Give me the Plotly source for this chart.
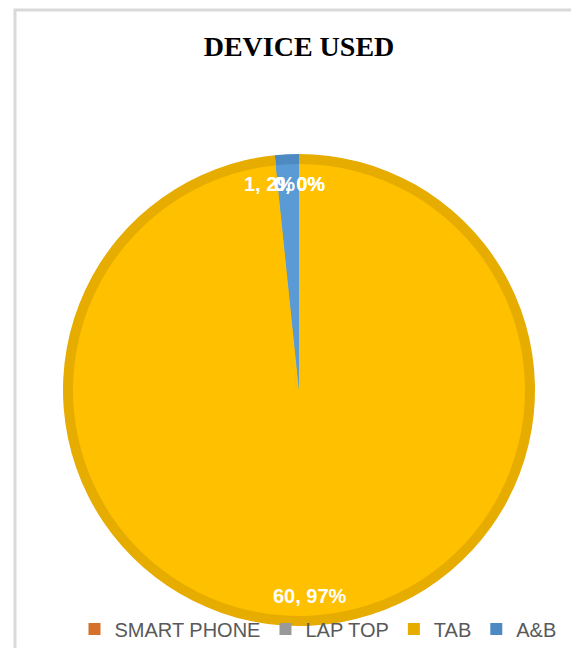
import math
import plotly.graph_objects as go

# ---- data ----
categories = ["SMART PHONE", "LAP TOP", "TAB", "A&B"]
values = [0, 0, 60, 1]
pct_labels = ["0%", "0%", "97%", "2%"]          # percentages as printed on the chart
fill_colors = ["#ED7D31", "#A5A5A5", "#FFC000", "#5B9BD5"]
edge_colors = ["#D6712C", "#999999", "#E6AC00", "#4E8AC2"]

W, H = 579, 648
OFF = 8                                  # page body margin in the browser
cx, cy, R, ring = 299 - OFF, 390 - OFF, 236, 10  # pie layout in figure pixels


def dom(r):
    return dict(x=[(cx - r) / W, (cx + r) / W],
                y=[1 - (cy + r) / H, 1 - (cy - r) / H])


fig = go.Figure()
# outer (darker edge) pie -> also provides legend
fig.add_trace(go.Pie(
    labels=categories, values=values, sort=False, direction="clockwise",
    rotation=0, domain=dom(R), marker=dict(colors=edge_colors, line=dict(width=0)),
    textinfo="none", hoverinfo="label+value+percent", showlegend=True,
))
# inner (bright) pie
fig.add_trace(go.Pie(
    labels=categories, values=values, sort=False, direction="clockwise",
    rotation=0, domain=dom(R - ring), marker=dict(colors=fill_colors, line=dict(width=0)),
    textinfo="none", hoverinfo="label+value+percent", showlegend=False,
))

# data labels at each slice's mid-angle (value, percent); small slices pushed apart
total = sum(values)
cum = 0.0
rl = 206
for cat, v, p in zip(categories, values, pct_labels):
    mid = (cum + v / 2) / total * 2 * math.pi
    cum += v
    px = cx + rl * math.sin(mid)
    py = cy - rl * math.cos(mid)
    shift = -19 if (v > 0 and v / total < 0.05) else 0
    fig.add_annotation(
        x=px / W, y=1 - py / H, xref="paper", yref="paper", xshift=shift,
        text=f"{v}, {p}", showarrow=False,
        font=dict(family="Liberation Sans", size=20, color="white", weight="bold"),
        xanchor="center", yanchor="middle",
    )

# chart frame
fig.add_shape(type="rect", xref="paper", yref="paper",
              x0=(15 - OFF) / W, x1=1.05, y0=-0.05, y1=1 - (10 - OFF) / H,
              line=dict(color="#D9D9D9", width=3), fillcolor="rgba(0,0,0,0)")

fig.update_layout(
    width=W, height=H,
    margin=dict(l=0, r=0, t=0, b=0),
    paper_bgcolor="white", plot_bgcolor="white",
    title=dict(text="<b>DEVICE USED</b>", x=(299 - OFF) / W, xanchor="center",
               y=1 - (46 - OFF) / H, yanchor="middle",
               font=dict(family="Liberation Serif", size=28, color="#000000")),
    legend=dict(orientation="h", x=(318 - OFF) / W, xanchor="center",
                y=1 - (629 - OFF) / H, yanchor="middle",
                font=dict(family="Liberation Sans", size=20, color="#595959"),
                bgcolor="rgba(0,0,0,0)", itemclick=False),
)

fig.write_html("out.html")
